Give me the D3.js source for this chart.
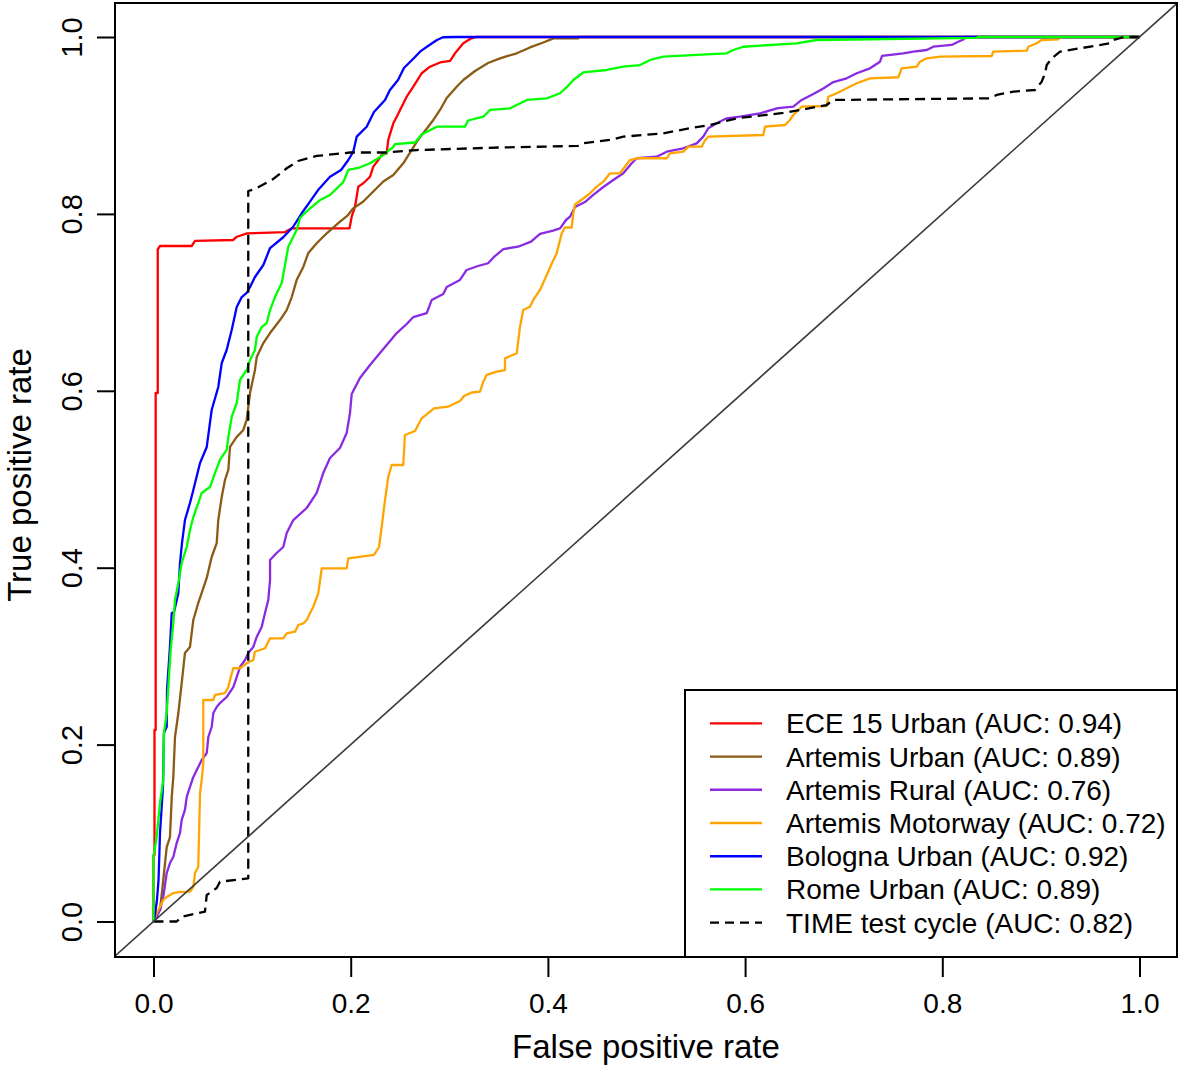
<!DOCTYPE html>
<html>
<head>
<meta charset="utf-8">
<script src="https://cdn.jsdelivr.net/npm/d3@7/dist/d3.min.js"></script>
<style>
  html, body { margin: 0; padding: 0; background: #fff; }
  svg { display: block; }
  text { font-family: "Liberation Sans", Arial, Helvetica, sans-serif; fill: #000; }
</style>
</head>
<body>
<svg id="chart" width="1181" height="1070"></svg>
<script>
// ---------------- DATA ----------------
const seriesNames = ["ECE 15 Urban", "Artemis Urban", "Artemis Rural", "Artemis Motorway", "Bologna Urban", "Rome Urban", "TIME test cycle"];
const aucValues = [0.94, 0.89, 0.76, 0.72, 0.92, 0.89, 0.82];
const xTickValues = [0.0, 0.2, 0.4, 0.6, 0.8, 1.0];
const yTickValues = [0.0, 0.2, 0.4, 0.6, 0.8, 1.0];
const xTitle = "False positive rate";
const yTitle = "True positive rate";

// ROC curves as [false positive rate, true positive rate]
const ece15Urban = [[0,0],[0,0.075],[0.001,0.075],[0.001,0.2165],[0.0022,0.2165],[0.0022,0.5975],[0.0043,0.5975],[0.0043,0.7599],[0.0066,0.7637],[0.0387,0.7637],[0.0421,0.7694],[0.0806,0.7705],[0.0847,0.7742],[0.0948,0.778],[0.1334,0.7795],[0.1402,0.7837],[0.1988,0.7837],[0.201,0.7968],[0.2044,0.8081],[0.2077,0.8308],[0.2128,0.8346],[0.2196,0.842],[0.2229,0.8534],[0.228,0.861],[0.2314,0.8666],[0.2365,0.8685],[0.2381,0.8836],[0.2432,0.9024],[0.2467,0.9099],[0.2517,0.9212],[0.2568,0.9325],[0.2635,0.9438],[0.272,0.959],[0.2804,0.9664],[0.2906,0.9712],[0.3008,0.9729],[0.3058,0.9816],[0.3142,0.9929],[0.321,0.9977],[0.3271,1],[1,1]];
const artemisUrban = [[0,0],[0.0032,0.0096],[0.0066,0.013],[0.0099,0.0469],[0.0134,0.0842],[0.0167,0.0955],[0.0185,0.1408],[0.0201,0.1634],[0.0218,0.2086],[0.0252,0.2357],[0.0286,0.2696],[0.0319,0.3036],[0.037,0.3104],[0.0404,0.3409],[0.0454,0.3601],[0.0489,0.3714],[0.054,0.3884],[0.059,0.4121],[0.0641,0.4279],[0.0657,0.4539],[0.0692,0.4799],[0.0725,0.4992],[0.0759,0.5105],[0.0776,0.5365],[0.0844,0.5478],[0.0911,0.5557],[0.0945,0.567],[0.0979,0.5975],[0.1029,0.6236],[0.1047,0.6382],[0.1114,0.654],[0.1182,0.6653],[0.1283,0.68],[0.1351,0.6913],[0.1402,0.706],[0.1452,0.7252],[0.1519,0.74],[0.157,0.7558],[0.1655,0.7668],[0.1757,0.7781],[0.1871,0.7893],[0.1973,0.7987],[0.2026,0.8063],[0.2128,0.814],[0.2229,0.8253],[0.2331,0.8366],[0.2432,0.844],[0.2533,0.8572],[0.2619,0.8723],[0.2682,0.8836],[0.2784,0.8983],[0.2838,0.9062],[0.2906,0.9175],[0.2974,0.9311],[0.3075,0.9438],[0.3142,0.9514],[0.3261,0.9616],[0.3393,0.9706],[0.3514,0.9759],[0.3684,0.9816],[0.3818,0.9882],[0.3953,0.9938],[0.4055,0.9985],[0.4308,0.9985],[0.4315,1],[1,1]];
const artemisRural = [[0,0],[0.0015,0.0017],[0.0066,0.013],[0.0099,0.0277],[0.0134,0.0548],[0.0167,0.0661],[0.0201,0.0729],[0.0235,0.0887],[0.0269,0.1001],[0.0286,0.1148],[0.0319,0.1261],[0.0337,0.1408],[0.037,0.1521],[0.0404,0.1634],[0.0454,0.1747],[0.0489,0.1826],[0.054,0.1905],[0.0556,0.2086],[0.059,0.2199],[0.0607,0.2357],[0.0641,0.2425],[0.0674,0.247],[0.0742,0.2538],[0.0809,0.2651],[0.0844,0.2764],[0.0877,0.2877],[0.0928,0.2956],[0.0961,0.3036],[0.1012,0.3104],[0.1047,0.3217],[0.1097,0.333],[0.1131,0.3488],[0.1164,0.3635],[0.1182,0.3861],[0.1182,0.4087],[0.1249,0.4166],[0.1316,0.4234],[0.1351,0.4392],[0.1418,0.4539],[0.1554,0.4675],[0.1655,0.4845],[0.1722,0.5071],[0.179,0.524],[0.1891,0.5353],[0.1959,0.5523],[0.1993,0.5749],[0.201,0.5964],[0.2094,0.6145],[0.2196,0.6292],[0.2297,0.6427],[0.2365,0.6518],[0.2467,0.6653],[0.2568,0.6755],[0.2635,0.6834],[0.2771,0.6879],[0.2821,0.7026],[0.2939,0.7094],[0.2974,0.7174],[0.3108,0.7253],[0.3176,0.7366],[0.3291,0.7411],[0.3393,0.7442],[0.3453,0.7513],[0.3548,0.7603],[0.3697,0.7629],[0.3829,0.7686],[0.392,0.7773],[0.4052,0.7812],[0.4123,0.7837],[0.4184,0.7931],[0.4224,0.7968],[0.4275,0.8078],[0.4376,0.8134],[0.446,0.8214],[0.4562,0.8304],[0.4663,0.8383],[0.4765,0.8459],[0.485,0.8572],[0.49,0.8629],[0.5103,0.8647],[0.5205,0.8703],[0.5373,0.8742],[0.5509,0.8798],[0.5576,0.8873],[0.5627,0.8968],[0.5712,0.9024],[0.5813,0.9081],[0.5948,0.9099],[0.6151,0.9137],[0.6333,0.9197],[0.6489,0.9212],[0.6574,0.9288],[0.6692,0.9356],[0.6793,0.9418],[0.6895,0.9491],[0.703,0.9533],[0.7132,0.959],[0.7267,0.9646],[0.7368,0.9721],[0.7389,0.9786],[0.7604,0.9816],[0.7706,0.9834],[0.7842,0.9853],[0.7909,0.989],[0.8095,0.991],[0.8162,0.9947],[0.8213,0.9971],[0.823,1],[1,1]];
const artemisMotorway = [[0,0],[0.0015,0.0051],[0.0049,0.013],[0.0099,0.0243],[0.0134,0.0277],[0.0201,0.0322],[0.0269,0.0334],[0.037,0.0337],[0.0404,0.039],[0.0421,0.0548],[0.0454,0.062],[0.0472,0.1453],[0.0489,0.16],[0.0505,0.1792],[0.0505,0.2504],[0.0606,0.2504],[0.0624,0.2561],[0.0725,0.2583],[0.0759,0.2651],[0.0776,0.273],[0.0809,0.2863],[0.0877,0.2863],[0.0945,0.2919],[0.1012,0.2956],[0.1029,0.305],[0.1131,0.3089],[0.1182,0.3202],[0.1316,0.3202],[0.1351,0.3258],[0.1435,0.3276],[0.1469,0.3352],[0.1519,0.3371],[0.1554,0.3409],[0.1587,0.3484],[0.1621,0.3559],[0.1671,0.3711],[0.1706,0.3993],[0.1959,0.3993],[0.1976,0.4106],[0.2236,0.4144],[0.2287,0.4234],[0.2314,0.446],[0.2348,0.4765],[0.2381,0.5026],[0.2416,0.5161],[0.2533,0.5161],[0.255,0.55],[0.2652,0.5545],[0.272,0.5689],[0.2845,0.5802],[0.2987,0.582],[0.3108,0.5885],[0.3149,0.5941],[0.3227,0.5981],[0.3311,0.599],[0.3345,0.6103],[0.3379,0.6179],[0.3481,0.6216],[0.3565,0.6235],[0.3565,0.6367],[0.3684,0.6424],[0.3717,0.6725],[0.375,0.6913],[0.3818,0.6951],[0.3852,0.7027],[0.392,0.714],[0.3988,0.731],[0.4047,0.7456],[0.4089,0.7554],[0.414,0.7781],[0.4173,0.7846],[0.4241,0.7846],[0.4258,0.8007],[0.4275,0.8106],[0.4359,0.8174],[0.4427,0.8233],[0.4495,0.8308],[0.4562,0.8364],[0.463,0.8459],[0.4731,0.8459],[0.4833,0.8609],[0.49,0.8629],[0.5205,0.8629],[0.5238,0.8685],[0.5373,0.8703],[0.5424,0.876],[0.556,0.876],[0.5593,0.8833],[0.5627,0.8873],[0.6185,0.8892],[0.6202,0.8986],[0.6405,0.9005],[0.6455,0.9062],[0.6489,0.9118],[0.6523,0.9155],[0.6574,0.9212],[0.6827,0.922],[0.6844,0.9325],[0.6929,0.9364],[0.703,0.942],[0.7132,0.9477],[0.7267,0.9533],[0.7554,0.9545],[0.7588,0.9646],[0.774,0.9664],[0.7774,0.9721],[0.7842,0.9759],[0.7977,0.9777],[0.8501,0.9785],[0.8517,0.9834],[0.8856,0.9845],[0.8872,0.989],[0.8957,0.9929],[0.9008,0.9966],[0.9176,0.9974],[0.9184,1],[1,1]];
const bolognaUrban = [[0,0],[0.0015,0.0073],[0.0035,0.0243],[0.0051,0.0469],[0.0066,0.1],[0.0096,0.1521],[0.0106,0.2131],[0.0134,0.2202],[0.0137,0.2617],[0.0167,0.3104],[0.0185,0.3488],[0.0208,0.3499],[0.0252,0.3714],[0.0269,0.4053],[0.0289,0.4279],[0.0319,0.4539],[0.037,0.4731],[0.0404,0.4878],[0.0472,0.5184],[0.054,0.5365],[0.059,0.5783],[0.0657,0.6043],[0.0692,0.6314],[0.0742,0.6461],[0.0793,0.6687],[0.0844,0.6947],[0.0895,0.706],[0.0945,0.7106],[0.0979,0.7174],[0.1029,0.7287],[0.1114,0.7422],[0.1182,0.7614],[0.1313,0.7733],[0.1415,0.7852],[0.1503,0.8007],[0.1587,0.8138],[0.1678,0.8282],[0.179,0.842],[0.1902,0.8496],[0.1976,0.8609],[0.2026,0.8703],[0.2061,0.8873],[0.2162,0.8986],[0.2236,0.9152],[0.2348,0.9288],[0.2398,0.9401],[0.248,0.9514],[0.254,0.965],[0.2642,0.9762],[0.2703,0.9834],[0.2784,0.9898],[0.2875,0.9966],[0.2936,0.9997],[0.3068,1],[1,1]];
const romeUrban = [[0,0],[0,0.0729],[0.0032,0.0955],[0.0066,0.134],[0.0099,0.16],[0.0106,0.2131],[0.0134,0.2357],[0.015,0.2651],[0.0174,0.307],[0.0201,0.3375],[0.0218,0.3635],[0.0252,0.3827],[0.0286,0.4053],[0.0337,0.4234],[0.037,0.4426],[0.0404,0.4573],[0.0454,0.4731],[0.0489,0.4845],[0.0573,0.4912],[0.0624,0.5071],[0.0674,0.5218],[0.0742,0.5331],[0.0759,0.5478],[0.0793,0.5704],[0.0844,0.5862],[0.0877,0.6122],[0.0945,0.6235],[0.0979,0.6348],[0.1029,0.6461],[0.1047,0.6608],[0.1097,0.6721],[0.1148,0.6766],[0.1182,0.6913],[0.1232,0.706],[0.1266,0.7139],[0.13,0.7219],[0.1334,0.7422],[0.1366,0.7626],[0.1452,0.7818],[0.1486,0.7954],[0.1537,0.801],[0.1587,0.8063],[0.1689,0.8157],[0.179,0.8214],[0.1925,0.836],[0.1976,0.8497],[0.2077,0.8519],[0.2196,0.8572],[0.2331,0.8666],[0.2432,0.8757],[0.2449,0.879],[0.2652,0.8807],[0.272,0.8898],[0.2872,0.8986],[0.3159,0.8986],[0.319,0.9056],[0.3345,0.9099],[0.3413,0.9175],[0.3616,0.9194],[0.3788,0.9288],[0.3991,0.9307],[0.4123,0.9364],[0.4194,0.9435],[0.4258,0.9514],[0.4359,0.9599],[0.4596,0.9627],[0.4765,0.9664],[0.4934,0.9683],[0.5036,0.974],[0.517,0.9777],[0.5509,0.9797],[0.5813,0.9816],[0.588,0.9853],[0.5982,0.989],[0.6523,0.9929],[0.6726,0.9966],[0.8349,0.9989],[0.836,1],[1,1]];
const timeTestCycle = [[0,0],[0.0235,0],[0.0286,0.0054],[0.0438,0.0093],[0.0522,0.0111],[0.054,0.03],[0.0641,0.0379],[0.0674,0.045],[0.0961,0.0488],[0.0961,0.8259],[0.1029,0.8282],[0.1215,0.8395],[0.1351,0.8516],[0.1466,0.8598],[0.1655,0.8655],[0.1993,0.8694],[0.2348,0.8694],[0.2669,0.8722],[0.3514,0.8751],[0.4305,0.8768],[0.4359,0.8798],[0.463,0.8836],[0.4765,0.8873],[0.517,0.8911],[0.5441,0.8968],[0.5644,0.9005],[0.5915,0.9081],[0.6387,0.9141],[0.6557,0.9175],[0.6827,0.9231],[0.6895,0.9288],[0.8484,0.9307],[0.8552,0.9345],[0.872,0.9382],[0.894,0.9401],[0.9008,0.9495],[0.9042,0.959],[0.9059,0.9683],[0.911,0.9759],[0.9194,0.9834],[0.9397,0.9872],[0.9701,0.9929],[0.9736,0.9966],[0.9838,1],[1,1]];

const curves = [ece15Urban, artemisUrban, artemisRural, artemisMotorway, bolognaUrban, romeUrban, timeTestCycle];

// ---------------- STYLE ----------------
const colors = ["#FF0000", "#8B5A14", "#8A2BE2", "#FFA500", "#0000FF", "#00FF00", "#000000"];
const dashes = [null, null, null, null, null, null, "10,6"];

// ---------------- LAYOUT ----------------
const svg = d3.select("#chart");
const box = { left: 115, right: 1177, top: 3, bottom: 957 };
const x = d3.scaleLinear().domain([0, 1]).range([153.5, 1139.5]);
const y = d3.scaleLinear().domain([0, 1]).range([921.5, 37]);

svg.append("defs").append("clipPath").attr("id", "plotclip")
  .append("rect")
  .attr("x", box.left).attr("y", box.top)
  .attr("width", box.right - box.left).attr("height", box.bottom - box.top);

const plot = svg.append("g").attr("clip-path", "url(#plotclip)");

// ROC curves
const line = d3.line().x(d => x(d[0])).y(d => y(d[1])).curve(d3.curveLinear);
curves.forEach((c, i) => {
  plot.append("path")
    .datum(c)
    .attr("d", line)
    .attr("fill", "none")
    .attr("stroke", colors[i])
    .attr("stroke-width", 2.3)
    .attr("stroke-linejoin", "round")
    .attr("stroke-dasharray", dashes[i]);
});

// diagonal reference line (abline 0,1), across full plot region
const diag = [[-0.04, -0.04], [1.04, 1.04]];
plot.append("path")
  .datum(diag)
  .attr("d", line)
  .attr("fill", "none")
  .attr("stroke", "#3a3a3a")
  .attr("stroke-width", 1.6);

// Axes
const fmt = d3.format(".1f");
const xAxis = svg.append("g")
  .attr("transform", `translate(0,${box.bottom})`)
  .call(d3.axisBottom(x).tickValues(xTickValues).tickFormat(fmt).tickSize(20).tickPadding(16));
xAxis.select(".domain").remove();
xAxis.selectAll(".tick line").attr("stroke", "#000").attr("stroke-width", 2);
xAxis.selectAll(".tick text")
  .style("font-family", '"Liberation Sans", Arial, sans-serif')
  .style("font-size", "28px").attr("fill", "#000");

const yAxis = svg.append("g")
  .attr("transform", `translate(${box.left},0)`)
  .call(d3.axisLeft(y).tickValues(yTickValues).tickFormat(fmt).tickSize(18).tickPadding(0));
yAxis.select(".domain").remove();
yAxis.selectAll(".tick line").attr("stroke", "#000").attr("stroke-width", 2);
yAxis.selectAll(".tick text")
  .style("font-family", '"Liberation Sans", Arial, sans-serif')
  .style("font-size", "29px").attr("fill", "#000")
  .attr("x", null).attr("dy", null)
  .attr("text-anchor", "middle")
  .attr("transform", "translate(-33,0) rotate(-90)");

// Plot box
svg.append("rect")
  .attr("x", box.left).attr("y", box.top)
  .attr("width", box.right - box.left).attr("height", box.bottom - box.top)
  .attr("fill", "none").attr("stroke", "#000").attr("stroke-width", 2);

// Axis titles
svg.append("text")
  .attr("x", (box.left + box.right) / 2).attr("y", 1058)
  .attr("text-anchor", "middle")
  .style("font-size", "33px")
  .text(xTitle);

svg.append("text")
  .attr("transform", `translate(31,475) rotate(-90)`)
  .attr("text-anchor", "middle")
  .style("font-size", "33px")
  .text(yTitle);

// Legend
const legendBox = { left: 685, top: 690, right: box.right, bottom: box.bottom };
const legend = svg.append("g");
legend.append("rect")
  .attr("x", legendBox.left).attr("y", legendBox.top)
  .attr("width", legendBox.right - legendBox.left).attr("height", legendBox.bottom - legendBox.top)
  .attr("fill", "#fff").attr("stroke", "#000").attr("stroke-width", 2);

const rowY = d3.scaleLinear().domain([0, 6]).range([723.3, 922.7]);
seriesNames.forEach((name, i) => {
  const yy = rowY(i);
  legend.append("line")
    .attr("x1", 710).attr("x2", 762).attr("y1", yy).attr("y2", yy)
    .attr("stroke", colors[i]).attr("stroke-width", 2.3)
    .attr("stroke-dasharray", dashes[i] ? "9,6" : null);
  legend.append("text")
    .attr("x", 786).attr("y", yy + 10)
    .style("font-size", "28px")
    .text(`${name} (AUC: ${d3.format(".2f")(aucValues[i])})`);
});
</script>
</body>
</html>
